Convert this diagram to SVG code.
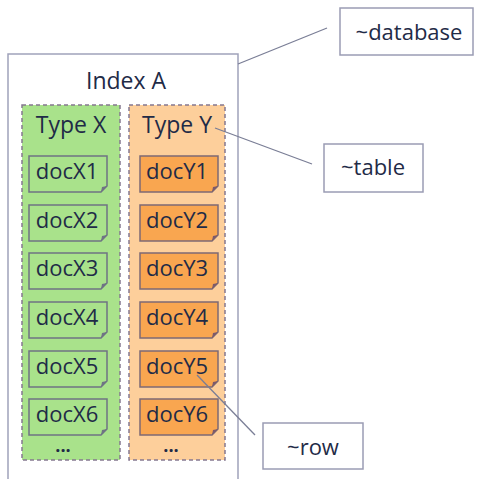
<svg xmlns="http://www.w3.org/2000/svg" width="478" height="479" viewBox="0 0 478 479">
<style>
text{font-family:"Open Sans","DejaVu Sans",sans-serif;fill:#1f2b47}
.t{font-size:22px}
.h{font-size:23px}
.lbl{fill:#fff;stroke:#9a9cb4;stroke-width:1.5}
.con{stroke:#7a7e96;stroke-width:1.3;fill:none}
.dx{fill:#a9e28b;stroke:#6f7384;stroke-width:1.5}
.dy{fill:#f9a650;stroke:#7d6a74;stroke-width:1.5}
.fx{fill:#6f7384}
.fy{fill:#7d5a6a}
</style>
<defs>
<path id="doc" d="M0,0 H78 V30 L72,36 H0 Z"/>
<path id="fold" d="M78,30 L72,36 L73,31 Z"/>
</defs>
<rect width="478" height="479" fill="#fff"/>
<g id="indexA">
<path d="M8,480 V54 H238 V480" fill="#fff" stroke="#a0a2ba" stroke-width="1.5"/>
<text class="h" x="126" y="89" text-anchor="middle">Index A</text>
</g>
<g id="typeX">
<rect x="22" y="105" width="98" height="355" fill="#a9e28b" stroke="#857890" stroke-width="1.5" stroke-dasharray="4,3"/>
<text class="h" x="71" y="133" text-anchor="middle">Type X</text>
</g>
<g id="typeY">
<rect x="129" y="105" width="96" height="355" fill="#fdcf9b" stroke="#857890" stroke-width="1.5" stroke-dasharray="4,3"/>
<text class="h" x="177" y="133" text-anchor="middle">Type Y</text>
</g>
<g id="docX1"><use href="#doc" x="29" y="156" class="dx"/><use href="#fold" x="29" y="156" class="fx"/><text class="t" x="67" y="179" text-anchor="middle">docX1</text></g>
<g id="docX2"><use href="#doc" x="29" y="205" class="dx"/><use href="#fold" x="29" y="205" class="fx"/><text class="t" x="67" y="228" text-anchor="middle">docX2</text></g>
<g id="docX3"><use href="#doc" x="29" y="253" class="dx"/><use href="#fold" x="29" y="253" class="fx"/><text class="t" x="67" y="276" text-anchor="middle">docX3</text></g>
<g id="docX4"><use href="#doc" x="29" y="302" class="dx"/><use href="#fold" x="29" y="302" class="fx"/><text class="t" x="67" y="325" text-anchor="middle">docX4</text></g>
<g id="docX5"><use href="#doc" x="29" y="351" class="dx"/><use href="#fold" x="29" y="351" class="fx"/><text class="t" x="67" y="374" text-anchor="middle">docX5</text></g>
<g id="docX6"><use href="#doc" x="29" y="399" class="dx"/><use href="#fold" x="29" y="399" class="fx"/><text class="t" x="67" y="422" text-anchor="middle">docX6</text></g>
<g id="moreX"><text x="63" y="452" text-anchor="middle" font-size="18" font-weight="bold">...</text></g>
<g id="docY1"><use href="#doc" x="140" y="156" class="dy"/><use href="#fold" x="140" y="156" class="fy"/><text class="t" x="177" y="179" text-anchor="middle">docY1</text></g>
<g id="docY2"><use href="#doc" x="140" y="205" class="dy"/><use href="#fold" x="140" y="205" class="fy"/><text class="t" x="177" y="228" text-anchor="middle">docY2</text></g>
<g id="docY3"><use href="#doc" x="140" y="253" class="dy"/><use href="#fold" x="140" y="253" class="fy"/><text class="t" x="177" y="276" text-anchor="middle">docY3</text></g>
<g id="docY4"><use href="#doc" x="140" y="302" class="dy"/><use href="#fold" x="140" y="302" class="fy"/><text class="t" x="177" y="325" text-anchor="middle">docY4</text></g>
<g id="docY5"><use href="#doc" x="140" y="351" class="dy"/><use href="#fold" x="140" y="351" class="fy"/><text class="t" x="177" y="374" text-anchor="middle">docY5</text></g>
<g id="docY6"><use href="#doc" x="140" y="399" class="dy"/><use href="#fold" x="140" y="399" class="fy"/><text class="t" x="177" y="422" text-anchor="middle">docY6</text></g>
<g id="moreY"><text x="171" y="452" text-anchor="middle" font-size="18" font-weight="bold">...</text></g>
<g id="connectors">
<line class="con" x1="238" y1="64" x2="327" y2="28"/>
<line class="con" x1="215" y1="128" x2="312" y2="164"/>
<line class="con" x1="197" y1="375" x2="255" y2="435"/>
</g>
<g id="database"><rect class="lbl" x="340" y="8" width="133" height="47"/><text class="t" x="409" y="40" text-anchor="middle">~database</text></g>
<g id="table"><rect class="lbl" x="324" y="144" width="99" height="48"/><text class="t" x="373" y="175" text-anchor="middle">~table</text></g>
<g id="row"><rect class="lbl" x="263" y="423" width="100" height="46"/><text class="t" x="313" y="455" text-anchor="middle">~row</text></g>
</svg>
